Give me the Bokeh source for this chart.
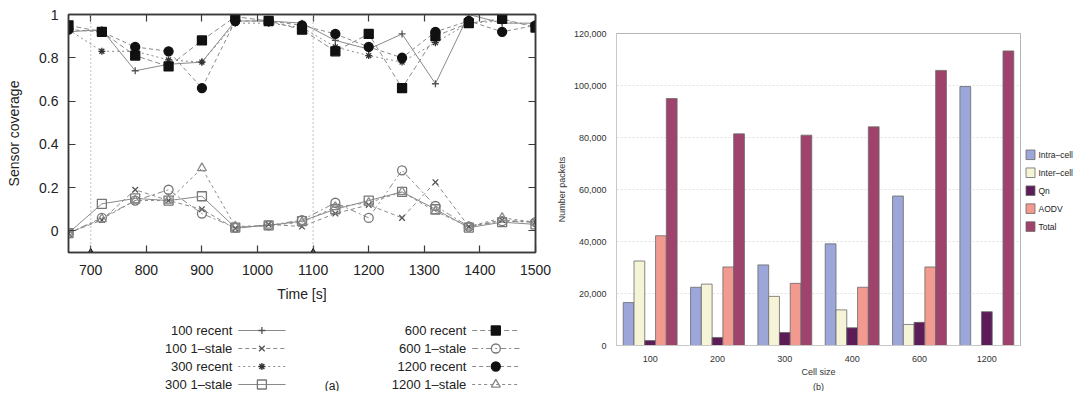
from bokeh.plotting import figure
from bokeh.models import (FactorRange, Range1d, FixedTicker, NumeralTickFormatter,
                          LinearAxis, Span, Title, ColumnDataSource)
from bokeh.layouts import row, column
from bokeh.transform import dodge
from bokeh.embed import file_html
from bokeh.resources import INLINE
from bokeh.core.properties import value

FONT = "Liberation Sans"

# ---------------- Panel (a) data ----------------
times = [660, 720, 780, 840, 900, 960, 1020, 1080, 1140, 1200, 1260, 1320, 1380, 1440, 1500]
cov_100_recent = [0.92, 0.93, 0.74, 0.77, 0.78, 0.97, 0.97, 0.96, 0.88, 0.84, 0.91, 0.68, 1.00, 0.96, 0.96]
cov_100_stale = [-0.01, 0.05, 0.19, 0.14, 0.10, 0.01, 0.03, 0.02, 0.08, 0.12, 0.06, 0.225, 0.02, 0.05, 0.04]
cov_300_recent = [0.93, 0.83, 0.83, 0.79, 0.78, 0.96, 0.96, 0.94, 0.85, 0.81, 0.78, 0.87, 0.96, 0.97, 0.95]
cov_300_stale = [-0.01, 0.125, 0.15, 0.14, 0.16, 0.015, 0.025, 0.045, 0.10, 0.14, 0.18, 0.10, 0.015, 0.04, 0.03]
cov_600_recent = [0.95, 0.92, 0.81, 0.76, 0.88, 0.99, 0.97, 0.93, 0.83, 0.91, 0.66, 0.90, 0.96, 0.98, 0.94]
cov_600_stale = [-0.01, 0.06, 0.14, 0.19, 0.08, 0.015, 0.025, 0.05, 0.13, 0.06, 0.28, 0.115, 0.02, 0.045, 0.04]
cov_1200_recent = [0.93, 0.92, 0.85, 0.83, 0.66, 0.97, 0.97, 0.95, 0.91, 0.85, 0.80, 0.92, 0.97, 0.92, 0.95]
cov_1200_stale = [-0.01, 0.055, 0.14, 0.14, 0.29, 0.02, 0.025, 0.04, 0.11, 0.13, 0.18, 0.09, 0.02, 0.06, 0.04]
event_times = [700, 1100]
time_ticks = [700, 800, 900, 1000, 1100, 1200, 1300, 1400, 1500]
coverage_ticks = [0, 0.2, 0.4, 0.6, 0.8, 1.0]

# ---------------- Panel (b) data ----------------
cell_sizes = ["100", "200", "300", "400", "600", "1200"]
intra_cell = [16500, 22400, 31000, 39100, 57500, 99600]
inter_cell = [32500, 23600, 18900, 13700, 8100, 0]
qn = [1900, 3100, 5000, 6800, 8900, 13000]
aodv = [42200, 30200, 23900, 22400, 30200, 0]
total = [95000, 81400, 80900, 84100, 105800, 113300]
packet_ticks = [0, 20000, 40000, 60000, 80000, 100000, 120000]

# ======== Panel (a) ========
DARK = "#3a3a3a"
LINE = "#8a8a8a"
W_A = 553
H_A = 308

p1 = figure(width=W_A, height=H_A, x_range=Range1d(660, 1500), y_range=Range1d(-0.1, 1.0),
            output_backend="svg", toolbar_location=None,
            min_border_left=68, min_border_right=18, min_border_top=14, min_border_bottom=56)
p1.grid.visible = False
p1.outline_line_color = DARK
p1.outline_line_width = 1.5


def style_axis(ax, size="14px"):
    ax.axis_line_color = DARK
    ax.axis_line_width = 1.5
    ax.major_tick_in = 7
    ax.major_tick_out = 0
    ax.major_tick_line_color = DARK
    ax.major_tick_line_width = 1.2
    ax.minor_tick_line_color = None
    ax.major_label_text_font = FONT
    ax.major_label_text_font_size = size
    ax.major_label_text_color = "#222"
    ax.axis_label_text_font = FONT
    ax.axis_label_text_font_size = "14px"
    ax.axis_label_text_font_style = "normal"
    ax.axis_label_text_color = "#222"


p1.xaxis.ticker = FixedTicker(ticks=time_ticks)
p1.yaxis.ticker = FixedTicker(ticks=coverage_ticks)
p1.yaxis.formatter = NumeralTickFormatter(format="0.[0]")
p1.xaxis.axis_label = "Time [s]"
p1.yaxis.axis_label = "Sensor coverage"
for ax in p1.xaxis:
    style_axis(ax)
    ax.major_label_standoff = 12
    ax.axis_label_standoff = 8
for ax in p1.yaxis:
    style_axis(ax)
    ax.major_label_standoff = 10
    ax.axis_label_standoff = 14

ax_top = LinearAxis(ticker=FixedTicker(ticks=time_ticks))
style_axis(ax_top)
ax_top.major_label_text_font_size = "0px"
ax_top.major_label_standoff = 0
p1.add_layout(ax_top, "above")
ax_right = LinearAxis(ticker=FixedTicker(ticks=coverage_ticks))
style_axis(ax_right)
ax_right.major_label_text_font_size = "0px"
ax_right.major_label_standoff = 0
p1.add_layout(ax_right, "right")

for t in event_times:
    p1.add_layout(Span(location=t, dimension="height", line_color="#9a9a9a",
                       line_dash="1 3", line_width=1.2))
p1.scatter(event_times, [p1.y_range.start] * len(event_times), marker="triangle",
           size=7, fill_color="#111", line_color="#111")

# name, values, dash, marker, size, filled, marker colour
series = [
    ("100 1–stale", cov_100_stale, "4 3", "x", 8, False, "#555"),
    ("300 1–stale", cov_300_stale, "solid", "square", 9, False, "#777"),
    ("600 1–stale", cov_600_stale, "6 3 2 3", "circle", 9, False, "#777"),
    ("1200 1–stale", cov_1200_stale, "3 3", "triangle", 9, False, "#888"),
    ("100 recent", cov_100_recent, "solid", "cross", 7, False, "#555"),
    ("300 recent", cov_300_recent, "2 3", "asterisk", 7, False, "#333"),
    ("600 recent", cov_600_recent, "5 3", "square", 9, True, "#111"),
    ("1200 recent", cov_1200_recent, "4 3", "circle", 9, True, "#111"),
]
for name, vals, dash, mk, sz, filled, mc in series:
    p1.line(times, vals, line_color=LINE, line_dash=dash, line_width=1)
for name, vals, dash, mk, sz, filled, mc in series:
    p1.scatter(times, vals, marker=mk, size=sz, line_color=mc, line_width=1.3,
               fill_color=mc if filled else None, fill_alpha=1.0 if filled else 0.0)

# legend area for (a), gnuplot style (text left, sample right)
LH = 391 - H_A
pl = figure(width=W_A, height=LH, x_range=Range1d(0, W_A), y_range=Range1d(LH, 0),
            output_backend="svg", toolbar_location=None, min_border=0)
pl.axis.visible = False
pl.grid.visible = False
pl.outline_line_color = None

legend_order = ["100 recent", "100 1–stale", "300 recent", "300 1–stale",
                "600 recent", "600 1–stale", "1200 recent", "1200 1–stale"]
lookup = {s[0]: s for s in series}
col_text_x = [194, 471]
row_y0, row_dy = 22, 18
for i, name in enumerate(legend_order):
    _, vals, dash, mk, sz, filled, mc = lookup[name]
    c, r = divmod(i, 4)
    tx = col_text_x[c]
    ty = row_y0 + r * row_dy
    pl.text(x=[tx], y=[ty], text=[name], text_align="right", text_baseline="middle",
            text_font=value(FONT), text_font_size=value("13px"), text_color="#222")
    pl.line([tx + 7, tx + 63], [ty, ty], line_color=LINE, line_dash=dash, line_width=1)
    pl.scatter([tx + 35], [ty], marker=mk, size=sz, line_color=mc, line_width=1.3,
               fill_color=mc if filled else None, fill_alpha=1.0 if filled else 0.0)
pl.text(x=[312], y=[77], text=["(a)"], text_align="center", text_baseline="middle",
        text_font=value(FONT), text_font_size=value("12px"), text_color="#222")

# ======== Panel (b) ========
src = ColumnDataSource(dict(cell=cell_sizes, intra=intra_cell, inter=inter_cell,
                            qn=qn, aodv=aodv, total=total))
p2 = figure(width=469, height=391, x_range=FactorRange(*cell_sizes),
            y_range=Range1d(0, 120000), output_backend="svg", toolbar_location=None,
            min_border_left=52, min_border_top=33, min_border_bottom=39, min_border_right=2)
p2.outline_line_color = "#b5b5b5"
p2.xgrid.visible = False
p2.ygrid.grid_line_color = "#e2e2e2"
p2.ygrid.grid_line_dash = "2 2"
p2.yaxis.ticker = FixedTicker(ticks=packet_ticks)
p2.yaxis.formatter = NumeralTickFormatter(format="0,0")
p2.yaxis.axis_label = "Number packets"
p2.xaxis.axis_label = "Cell size"
for ax in list(p2.xaxis) + list(p2.yaxis):
    ax.axis_line_color = "#c8c8c8"
    ax.major_tick_line_color = None
    ax.minor_tick_line_color = None
    ax.major_label_text_font = FONT
    ax.major_label_text_font_size = "9px"
    ax.major_label_text_color = "#333"
    ax.axis_label_text_font = FONT
    ax.axis_label_text_font_size = "9px"
    ax.axis_label_text_font_style = "normal"
    ax.axis_label_text_color = "#333"
p2.yaxis.major_label_standoff = 4
p2.yaxis.axis_label_standoff = 4
p2.xaxis.major_label_standoff = 4
p2.xaxis.axis_label_standoff = 2

bar_series = [("Intra–cell", "intra", "#9ca6d8"), ("Inter–cell", "inter", "#f6f4d6"),
              ("Qn", "qn", "#5c1c58"), ("AODV", "aodv", "#f29a90"),
              ("Total", "total", "#a0436c")]
bw = 0.16
for k, (label, col, color) in enumerate(bar_series):
    off = (k - 2) * bw
    p2.vbar(x=dodge("cell", off, range=p2.x_range), top=col, width=bw, source=src,
            fill_color=color, line_color="#6a6a6a", line_width=0.8)
p2.add_layout(Title(text="(b)", align="center", text_font=FONT, text_font_size="9px",
                    text_font_style="normal", text_color="#333", standoff=0, offset=0),
              "below")

# legend for (b) drawn in its own narrow strip
LW2, LH2 = 1073 - 553 - 469, 391
pb = figure(width=LW2, height=LH2, x_range=Range1d(0, LW2), y_range=Range1d(LH2, 0),
            output_backend="svg", toolbar_location=None, min_border=0)
pb.axis.visible = False
pb.grid.visible = False
pb.outline_line_color = None
leg_y0, leg_dy = 152, 22.5
for k, (label, col, color) in enumerate(bar_series):
    y = leg_y0 + k * leg_dy
    pb.rect([8], [y], width=9, height=12, fill_color=color, line_color="#6a6a6a",
            line_width=0.8)
    pb.text(x=[16], y=[y], text=[label], text_align="left", text_baseline="middle",
            text_font=value(FONT), text_font_size=value("8.5px"), text_color="#222")

layout = row(column(p1, pl), p2, pb)
open("out.html", "w").write(file_html(layout, INLINE))
